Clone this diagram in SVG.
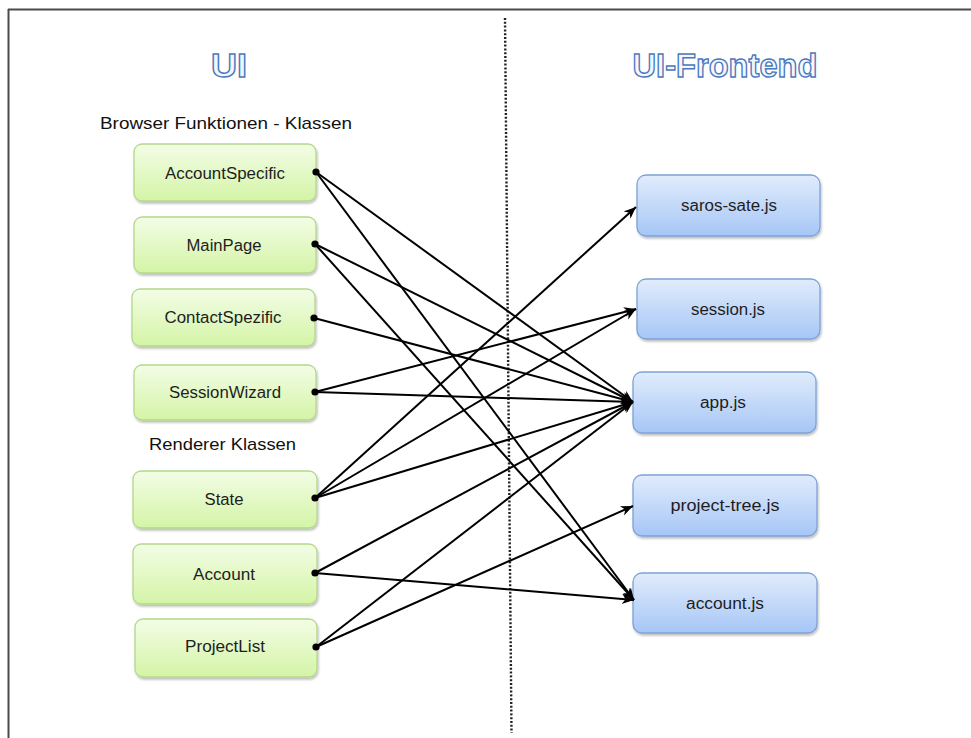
<svg xmlns="http://www.w3.org/2000/svg" width="971" height="738" viewBox="0 0 971 738">
<defs>
<linearGradient id="gGreen" x1="0" y1="0" x2="0" y2="1">
<stop offset="0" stop-color="#f3fde6"/>
<stop offset="1" stop-color="#d4f4a6"/>
</linearGradient>
<linearGradient id="gBlue" x1="0" y1="0" x2="0" y2="1">
<stop offset="0" stop-color="#e1ecfc"/>
<stop offset="1" stop-color="#a6c6f6"/>
</linearGradient>
<filter id="sh" x="-10%" y="-10%" width="120%" height="130%">
<feDropShadow dx="1" dy="2" stdDeviation="1.2" flood-color="#000" flood-opacity="0.25"/>
</filter>
<marker id="arr" markerUnits="userSpaceOnUse" markerWidth="14" markerHeight="12" refX="12" refY="5" orient="auto">
<path d="M0,0 L12,5 L0,10 L3.5,5 Z" fill="#000"/>
</marker>
</defs>
<style>
.lbl{font-family:"Liberation Sans",Arial,sans-serif;font-size:16px;fill:#1e1e1e;text-anchor:middle}
.hdr{font-family:"Liberation Sans",Arial,sans-serif;font-size:17px;fill:#111}
.title{font-family:"Liberation Sans",Arial,sans-serif;font-size:34px;font-weight:bold;fill:#f4f8fe;stroke:#4a78bd;stroke-width:1.4;text-anchor:middle}
.green{fill:url(#gGreen);stroke:#b3d88a;stroke-width:1.3;filter:url(#sh)}
.blue{fill:url(#gBlue);stroke:#7ca2d8;stroke-width:1.3;filter:url(#sh)}
.con line{stroke:#000;stroke-width:2;marker-end:url(#arr)}
.con circle{fill:#000}
</style>
<rect x="0" y="0" width="971" height="738" fill="#ffffff"/>
<g id="frame" stroke="#4a4a4a" stroke-width="2" fill="none">
<line x1="8" y1="9.5" x2="971" y2="9.5"/>
<line x1="8.5" y1="9" x2="8.5" y2="738"/>
</g>
<line id="divider" x1="505" y1="18" x2="511.5" y2="733" stroke="#222" stroke-width="2.4" stroke-dasharray="2 1.8"/>
<g id="titles">
<text class="title" x="229" y="77" textLength="36" lengthAdjust="spacingAndGlyphs">UI</text>
<text class="title" x="725" y="77" textLength="185" lengthAdjust="spacingAndGlyphs">UI-Frontend</text>
<text class="hdr" x="100" y="129" textLength="252" lengthAdjust="spacingAndGlyphs">Browser  Funktionen - Klassen</text>
<text class="hdr" x="149" y="450" textLength="147" lengthAdjust="spacingAndGlyphs">Renderer  Klassen</text>
</g>
<g id="n-accountspecific"><rect class="green" x="134" y="144" width="182" height="57" rx="8"/><text class="lbl" x="225" y="179" textLength="120" lengthAdjust="spacingAndGlyphs">AccountSpecific</text></g>
<g id="n-mainpage"><rect class="green" x="134" y="217" width="182" height="56" rx="8"/><text class="lbl" x="224" y="251" textLength="75" lengthAdjust="spacingAndGlyphs">MainPage</text></g>
<g id="n-contactspezific"><rect class="green" x="132" y="289" width="183" height="57" rx="8"/><text class="lbl" x="223" y="323" textLength="117" lengthAdjust="spacingAndGlyphs">ContactSpezific</text></g>
<g id="n-sessionwizard"><rect class="green" x="134" y="365" width="182" height="55" rx="8"/><text class="lbl" x="225" y="398" textLength="112" lengthAdjust="spacingAndGlyphs">SessionWizard</text></g>
<g id="n-state"><rect class="green" x="133" y="471" width="184" height="57" rx="8"/><text class="lbl" x="224" y="505" textLength="39" lengthAdjust="spacingAndGlyphs">State</text></g>
<g id="n-account"><rect class="green" x="133" y="544" width="184" height="60" rx="8"/><text class="lbl" x="224" y="580" textLength="62" lengthAdjust="spacingAndGlyphs">Account</text></g>
<g id="n-projectlist"><rect class="green" x="135" y="619" width="182" height="58" rx="8"/><text class="lbl" x="225" y="652" textLength="80" lengthAdjust="spacingAndGlyphs">ProjectList</text></g>
<g id="n-saros"><rect class="blue" x="637" y="175" width="183" height="61" rx="9"/><text class="lbl" x="729" y="211" textLength="96" lengthAdjust="spacingAndGlyphs">saros-sate.js</text></g>
<g id="n-session"><rect class="blue" x="637" y="279" width="183" height="60" rx="9"/><text class="lbl" x="728" y="315" textLength="74" lengthAdjust="spacingAndGlyphs">session.js</text></g>
<g id="n-app"><rect class="blue" x="633" y="372" width="183" height="61" rx="9"/><text class="lbl" x="723" y="408" textLength="46" lengthAdjust="spacingAndGlyphs">app.js</text></g>
<g id="n-projecttree"><rect class="blue" x="633" y="475" width="184" height="61" rx="9"/><text class="lbl" x="725" y="511" textLength="109" lengthAdjust="spacingAndGlyphs">project-tree.js</text></g>
<g id="n-accountjs"><rect class="blue" x="633" y="573" width="184" height="60" rx="9"/><text class="lbl" x="725" y="609" textLength="78" lengthAdjust="spacingAndGlyphs">account.js</text></g>
<g id="connectors" class="con">
<line x1="316" y1="172" x2="633" y2="402"/>
<line x1="316" y1="172" x2="634" y2="600"/>
<line x1="315" y1="244" x2="633" y2="402"/>
<line x1="315" y1="244" x2="634" y2="600"/>
<line x1="314" y1="318" x2="633" y2="402"/>
<line x1="315" y1="392" x2="636" y2="309"/>
<line x1="315" y1="392" x2="633" y2="402"/>
<line x1="315" y1="498" x2="636" y2="207"/>
<line x1="315" y1="498" x2="636" y2="309"/>
<line x1="315" y1="498" x2="633" y2="402"/>
<line x1="315" y1="573" x2="633" y2="402"/>
<line x1="315" y1="573" x2="634" y2="600"/>
<line x1="316" y1="647" x2="633" y2="402"/>
<line x1="316" y1="647" x2="633" y2="506"/>
<circle cx="316" cy="172" r="3.6"/>
<circle cx="315" cy="244" r="3.6"/>
<circle cx="314" cy="318" r="3.6"/>
<circle cx="315" cy="392" r="3.6"/>
<circle cx="315" cy="498" r="3.6"/>
<circle cx="315" cy="573" r="3.6"/>
<circle cx="316" cy="647" r="3.6"/>
</g>
</svg>
